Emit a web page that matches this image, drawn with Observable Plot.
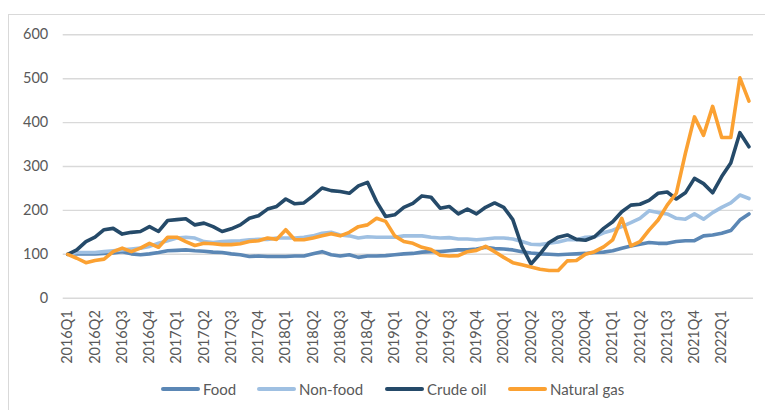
<!DOCTYPE html>
<html>
<head>
<meta charset="utf-8">
<script src="https://cdn.jsdelivr.net/npm/d3@7"></script>
<script src="https://cdn.jsdelivr.net/npm/@observablehq/plot@0.6"></script>
<style>
  html, body { margin: 0; padding: 0; background: #fff; }
  #wrap { position: relative; width: 765px; height: 410px; overflow: hidden; font-family: Lato, "Open Sans", sans-serif; }
  #frame { position: absolute; left: 8px; top: 14px; width: 900px; height: 500px; border-left: 1px solid #d9d9d9; border-top: 1px solid #d9d9d9; }
  #chart { position: absolute; left: 0; top: 0; }
  .leg { position: absolute; top: 380px; display: flex; align-items: center; font-size: 15px; color: #595959; white-space: nowrap; }
  .sw { width: 39px; height: 4px; border-radius: 2px; margin-right: 3px; }
</style>
</head>
<body>
<div id="wrap">
  <div id="frame"></div>
  <div id="chart"></div>
</div>
<script>
// Monthly index values, 2016M1 = 100 (2016M1 .. 2022M4)
const food = [100,101,101,101,102,103,106,101,99,101,104,108,109,110,108,107,105,104,101,
  99,95,96,95,95,95,96,96,101,106,99,96,99,93,96,96,97,99,101,
  102,105,106,106,108,110,110,112,116,113,112,110,106,103,101,100,99,100,101,
  102,104,105,108,114,119,123,127,125,125,129,131,131,142,144,148,154,178,192];
const nonFood = [100,104,104,104,106,108,110,112,114,118,125,131,137,139,137,129,127,129,130,
  131,133,134,134,137,137,137,139,142,148,150,144,142,137,140,139,139,139,142,
  142,142,139,137,138,135,135,133,135,137,137,135,129,123,122,125,128,133,133,
  139,140,149,155,163,172,182,199,195,192,182,180,192,180,195,207,217,235,227];
const crudeOil = [100,110,129,139,156,159,146,150,152,163,152,177,179,181,167,171,163,152,158,
  167,182,188,203,209,226,215,217,233,251,245,243,239,256,264,220,186,190,207,216,
  233,230,205,209,192,203,192,207,217,207,179,118,78,101,127,139,144,134,132,
  140,159,174,197,212,214,223,239,242,226,240,273,261,240,277,308,377,345];
const naturalGas = [100,91,81,86,89,106,114,106,114,125,116,139,139,129,120,125,124,122,122,
  124,129,131,137,134,156,133,133,137,142,147,142,150,163,167,182,175,142,129,125,
  116,111,98,96,97,106,109,118,106,93,81,76,71,66,63,63,85,86,100,
  106,117,133,182,119,129,155,178,212,239,330,413,371,437,366,366,502,449];

const quarterLabels = [];
for (let y = 2016; y <= 2022; y++) for (let q = 1; q <= 4; q++) if (!(y === 2022 && q > 1)) quarterLabels.push(y + "Q" + q);
const yTicks = [0, 100, 200, 300, 400, 500, 600];

const seriesNames = ["Food", "Non-food", "Crude oil", "Natural gas"];
const seriesValues = [food, nonFood, crudeOil, naturalGas];
const seriesColors = ["#5b87b5", "#9fc0e2", "#254a69", "#fba132"];

const tickIdx = quarterLabels.map((_, k) => k * 3);

const lineMarks = seriesValues.map((vals, s) =>
  Plot.lineY(vals, {x: (d, i) => i, y: d => d, stroke: seriesColors[s], strokeWidth: 3.6, strokeLinejoin: "round", strokeLinecap: "round"})
);

const chart = Plot.plot({
  width: 765,
  height: 375,
  marginLeft: 62.7,
  marginRight: 12,
  marginTop: 34.3,
  marginBottom: 77.3,
  style: {fontFamily: "Lato, 'Open Sans', sans-serif", fontSize: "14.5px", color: "#595959", background: "transparent"},
  x: {domain: [-0.5, 75.5], axis: null},
  y: {domain: [0, 600], axis: null},
  marks: [
    Plot.ruleY(yTicks, {stroke: "#d9d9d9", strokeWidth: 1.4}),
    Plot.axisY(yTicks, {tickSize: 0, tickPadding: 15, fill: "#595959", label: null}),
    Plot.axisX(tickIdx, {tickSize: 0, tickPadding: 12, tickRotate: -90, tickFormat: i => quarterLabels[i / 3], fill: "#595959", label: null}),
    ...lineMarks
  ]
});
document.getElementById("chart").appendChild(chart);

const legLeft = [161, 257, 385, 508];
const wrap = document.getElementById("wrap");
seriesNames.forEach((name, s) => {
  const item = document.createElement("div");
  item.className = "leg";
  item.style.left = legLeft[s] + "px";
  const sw = document.createElement("div");
  sw.className = "sw";
  sw.style.background = seriesColors[s];
  const t = document.createElement("span");
  t.textContent = name;
  item.appendChild(sw);
  item.appendChild(t);
  wrap.appendChild(item);
});
</script>
</body>
</html>
